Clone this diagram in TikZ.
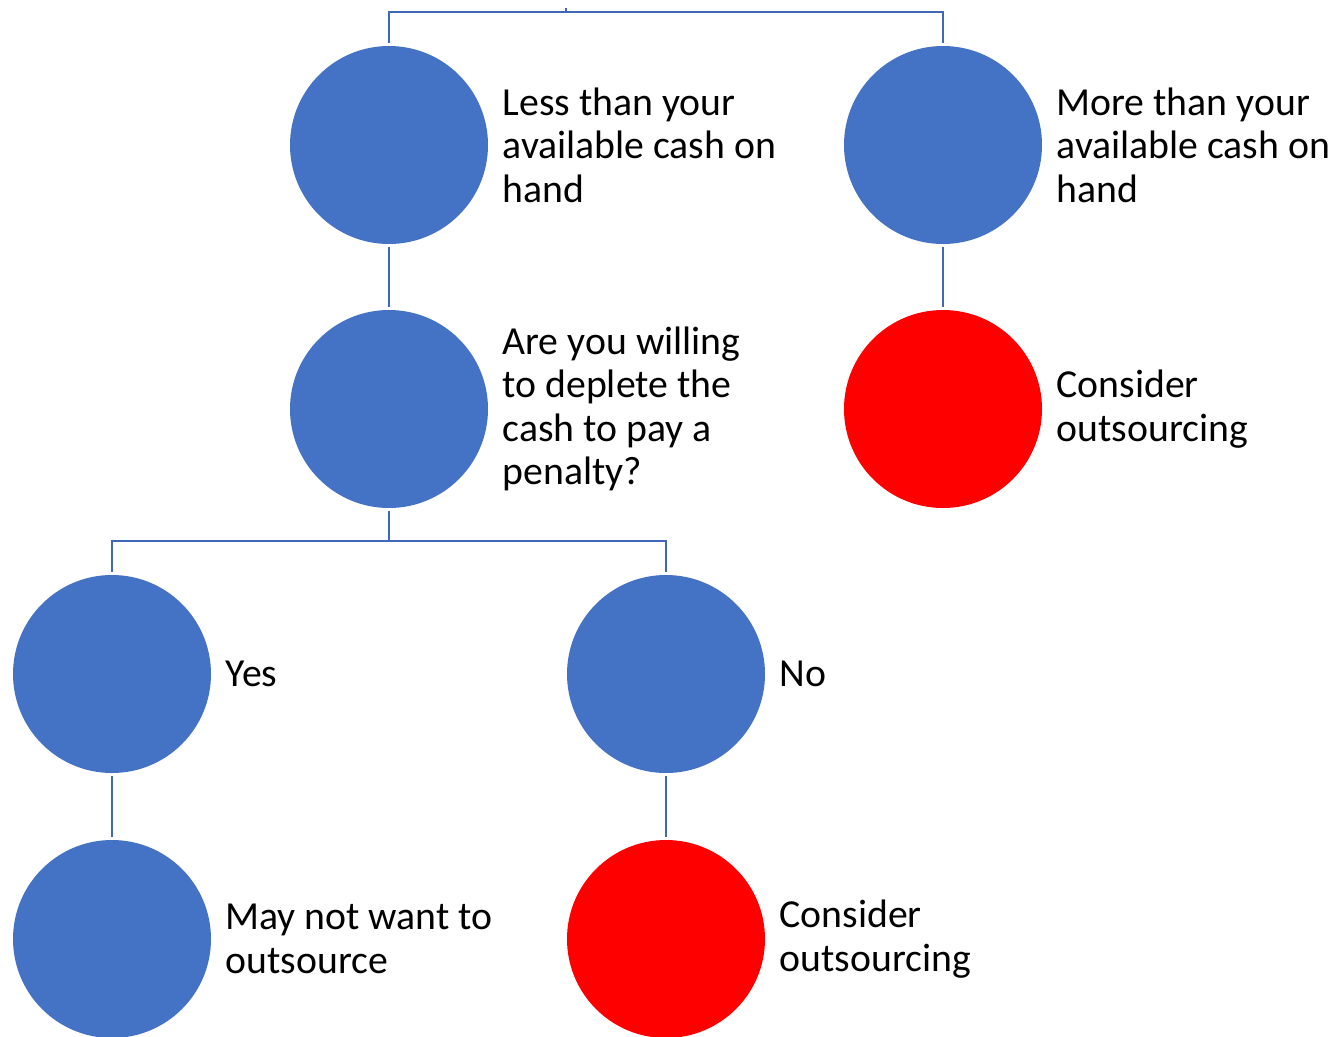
\documentclass[tikz,border=0pt]{standalone}
\usepackage{fontspec}
\setmainfont{Carlito}
\usetikzlibrary{positioning}
\definecolor{nodeblue}{HTML}{4472C4}
\definecolor{linkblue}{HTML}{4068B8}
\definecolor{nodered}{HTML}{FF0000}
\tikzset{
  dot/.style={circle, fill=nodeblue, minimum size=148.5pt, inner sep=0pt, outer sep=2.25pt},
  reddot/.style={dot, fill=nodered},
  txt/.style={align=left, inner sep=0pt, font=\fontsize{29.8}{32.6}\selectfont},
  link/.style={draw=linkblue, line width=2.1pt}
}
\begin{document}
\begin{tikzpicture}[x=0.75pt, y=-0.75pt]
    \fill[white] (0,0) rectangle (1335,1036);
    \useasboundingbox (0,0) rectangle (1335,1036);
        % circles
        \node[dot] (less) at (389,145) {};
        \node[dot] (more) at (943,145) {};
        \node[dot] (willing) at (389,409) {};
        \node[reddot] (consider1) at (943,409) {};
        \node[dot] (yes) at (112,674) {};
        \node[dot] (no) at (666,674) {};
        \node[dot] (maynot) at (112,939) {};
        \node[reddot] (consider2) at (666,939) {};
        % texts
        \node[txt, right=8.5pt of less] {Less than your\\available cash on\\hand};
        \node[txt, right=8.5pt of more] {More than your\\available cash on\\hand};
        \node[txt, right=8.5pt of willing] {Are you willing\\to deplete the\\cash to pay a\\penalty?};
        \node[txt, right=8.5pt of consider1] {Consider\\outsourcing};
        \node[txt, right=8.5pt of yes] {Yes};
        \node[txt, right=8.5pt of no] {No};
        \node[txt, right=8.5pt of maynot] {May not want to\\outsource};
        \node[txt, right=8.5pt of consider2] {Consider\\outsourcing};
        % connectors
        \coordinate (root) at (566,12);
        \coordinate (split) at (389,541);
        \draw[link] (root) -- ++(0,-4);
        \draw[link] (less.north) |- (root) -| (more.north);
        \draw[link] (less) -- (willing);
        \draw[link] (more) -- (consider1);
        \draw[link] (willing.south) -- (split);
        \draw[link] (yes.north) |- (split) -| (no.north);
        \draw[link] (yes) -- (maynot);
        \draw[link] (no) -- (consider2);
    \end{tikzpicture}
\end{document}
